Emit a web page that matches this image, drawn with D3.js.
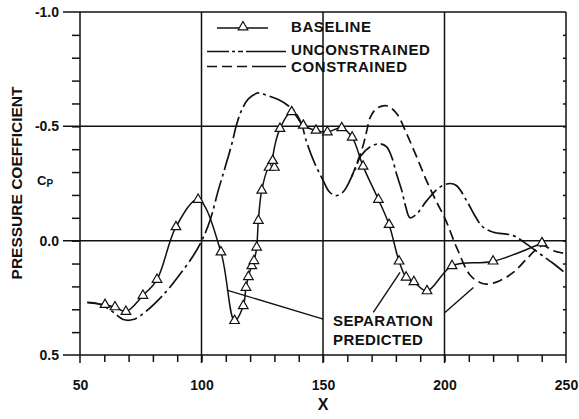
<!DOCTYPE html>
<meta charset="utf-8">
<html>
<head>
<script src="https://d3js.org/d3.v7.min.js"></script>
<style>
  body{margin:0;background:#fff;}
  text{font-family:"Liberation Sans",Arial,sans-serif;font-weight:bold;fill:#111;}
</style>
</head>
<body>
<div id="chart"></div>
<script>
var width=579,height=419;

// baseline (triangles), first point has no marker
var baseX=[53,60.3,64.4,68.9,75.9,81.7,89.5,98.6,108,113.6,117.2,118.3,119.3,120.7,121.6,122.7,123.4,124.8,127.8,130,129.3,132.3,137.1,141.9,147.1,151.8,157.7,162,166.5,172.8,177.2,181.3,184.2,187.4,192.8,203.1,220,240.1];
var baseCp=[0.27,0.28,0.29,0.31,0.24,0.17,-0.06,-0.18,0.05,0.35,0.285,0.205,0.158,0.11,0.088,0.029,-0.088,-0.22,-0.32,-0.32,-0.35,-0.49,-0.563,-0.504,-0.482,-0.475,-0.493,-0.452,-0.325,-0.18,-0.07,0.09,0.16,0.18,0.22,0.11,0.09,0.01];

// unconstrained design
var unconX=[53,57,60.5,64,67.8,71.9,77.4,85.7,91.2,96.6,100.1,103.5,106.9,109.7,112.4,114.5,116.5,119.3,123.4,126.8,131.6,135.7,138.5,141.2,143,146.5,150,152.5,155.2,158,159.7,161.8,163.5,165.5,169.3,173.5,176.2,178.3,180.3,182.4,184,185.8,188.6,192.7,198.1,202.3,205,209.1,213,216,220.1,228.3,233.8,239.3,244.8,250];
var unconCp=[0.27,0.275,0.29,0.315,0.345,0.345,0.307,0.22,0.146,0.066,0.0,-0.088,-0.22,-0.32,-0.42,-0.51,-0.57,-0.62,-0.646,-0.636,-0.617,-0.59,-0.563,-0.51,-0.44,-0.34,-0.265,-0.215,-0.197,-0.21,-0.234,-0.28,-0.32,-0.37,-0.41,-0.424,-0.41,-0.365,-0.29,-0.22,-0.15,-0.10,-0.117,-0.175,-0.234,-0.25,-0.24,-0.175,-0.1,-0.058,-0.037,-0.022,0.015,0.058,0.1,0.145];

// constrained design (same as unconstrained upstream of x~162)
var conX=[161.8,164,166.6,168,169.5,172.1,176.2,180.3,184.4,188.6,192.7,196,200.5,205,210.5,214.6,217.4,222.8,228.3,233.8,238,240.6,244.8,249.6];
var conCp=[-0.28,-0.34,-0.42,-0.48,-0.54,-0.578,-0.59,-0.556,-0.468,-0.365,-0.26,-0.185,-0.09,0.03,0.15,0.183,0.19,0.175,0.139,0.08,0.036,0.022,0.044,0.056];

var xTicks=[50,100,150,200,250];
var yTicks=[-1.0,-0.5,0.0,0.5];

// separation pointers: start on curve, end near label
var sepX1=[110.4,181.7,211.9], sepCp1=[0.216,0.139,0.205];
var sepX2=[150.1,170.7,200.2], sepCp2=[0.343,0.314,0.314];

var x=d3.scaleLinear().domain([50,250]).range([80,566]);
var y=d3.scaleLinear().domain([-1,0.5]).range([12,355]);

var svg=d3.select("#chart").append("svg")
  .attr("width",width).attr("height",height);

var ink="#111";

// grid / frame lines
var grid=svg.append("g").attr("stroke",ink).attr("stroke-width",1.5);
grid.selectAll("line.h").data(yTicks).enter().append("line")
  .attr("x1",63).attr("x2",x(250))
  .attr("y1",function(d){return y(d)}).attr("y2",function(d){return y(d)});
grid.selectAll("line.v").data(xTicks).enter().append("line")
  .attr("y1",y(-1)).attr("y2",y(0.5)+8)
  .attr("x1",function(d){return x(d)}).attr("x2",function(d){return x(d)});

// minor ticks
var minorX=svg.append("g").attr("transform","translate(0,"+y(0.5)+")")
  .call(d3.axisBottom(x).tickValues(d3.range(60,250,10)).tickSize(7).tickFormat(""));
var minorY=svg.append("g").attr("transform","translate("+x(50)+",0)")
  .call(d3.axisLeft(y).tickValues(d3.range(-9,5).map(function(i){return i/10})).tickSize(8).tickFormat(""));
var minorR=svg.append("g").attr("transform","translate("+x(250)+",0)")
  .call(d3.axisLeft(y).tickValues(d3.range(-9,5).map(function(i){return i/10})).tickSize(3).tickFormat(""));
[minorX,minorY,minorR].forEach(function(g){
  g.select(".domain").remove();
  g.selectAll("line").attr("stroke",ink).attr("stroke-width",1.5);
});

// tick labels
var xLab=svg.append("g").attr("transform","translate(0,"+y(0.5)+")")
  .call(d3.axisBottom(x).tickValues(xTicks).tickSize(0).tickPadding(25).tickFormat(d3.format("d")));
var yLab=svg.append("g").attr("transform","translate("+x(50)+",0)")
  .call(d3.axisLeft(y).tickValues(yTicks).tickSize(0).tickPadding(21).tickFormat(function(d){return d.toFixed(1)}));
[xLab,yLab].forEach(function(g){
  g.select(".domain").remove();
  g.selectAll("text").attr("font-family",null).attr("font-size",null)
    .style("font-size","14px").style("fill",ink);
});

// curves
var line=d3.line()
  .x(function(d){return x(d[0])}).y(function(d){return y(d[1])})
  .curve(d3.curveCatmullRom.alpha(0.5));
function pts(xs,cs){return xs.map(function(v,i){return [v,cs[i]]});}

var unconDash="22,4,3,4", conDash="10,5";

svg.append("path").attr("d",line(pts(unconX,unconCp)))
  .attr("fill","none").attr("stroke",ink).attr("stroke-width",1.7)
  .attr("stroke-dasharray",unconDash);
svg.append("path").attr("d",line(pts(conX,conCp)))
  .attr("fill","none").attr("stroke",ink).attr("stroke-width",1.7)
  .attr("stroke-dasharray",conDash);
svg.append("path").attr("d",line(pts(baseX,baseCp)))
  .attr("fill","none").attr("stroke",ink).attr("stroke-width",1.5);

var tri=d3.symbol().type(d3.symbolTriangle).size(40);
svg.append("g").selectAll("path")
  .data(pts(baseX,baseCp).slice(1)).enter().append("path")
  .attr("d",tri)
  .attr("transform",function(d){return "translate("+x(d[0])+","+y(d[1])+")"})
  .attr("fill","#fff").attr("stroke",ink).attr("stroke-width",1.2);

// separation pointers
svg.append("g").selectAll("line").data(sepX1).enter().append("line")
  .attr("x1",function(d){return x(d)}).attr("y1",function(d,i){return y(sepCp1[i])})
  .attr("x2",function(d,i){return x(sepX2[i])}).attr("y2",function(d,i){return y(sepCp2[i])})
  .attr("stroke",ink).attr("stroke-width",1.4);
svg.append("text").attr("x",333).attr("y",326).style("font-size","15px")
  .style("letter-spacing","0.4px").text("SEPARATION");
svg.append("text").attr("x",333).attr("y",345).style("font-size","15px")
  .style("letter-spacing","0.4px").text("PREDICTED");

// legend
var lg=svg.append("g");
lg.append("line").attr("x1",217).attr("x2",268).attr("y1",28).attr("y2",28)
  .attr("stroke",ink).attr("stroke-width",1.5);
lg.append("path").attr("d",tri).attr("transform","translate(243,27)")
  .attr("fill","#fff").attr("stroke",ink).attr("stroke-width",1.2);
lg.append("line").attr("x1",207).attr("x2",286).attr("y1",51.5).attr("y2",51.5)
  .attr("stroke",ink).attr("stroke-width",1.7).attr("stroke-dasharray","22,3,3,3,5,3,40");
lg.append("line").attr("x1",207).attr("x2",286).attr("y1",66.5).attr("y2",66.5)
  .attr("stroke",ink).attr("stroke-width",1.7).attr("stroke-dasharray","10,5,10,5,10,5,40");
var legText=["BASELINE","UNCONSTRAINED","CONSTRAINED"], legY=[32,55,72];
lg.selectAll("text").data(legText).enter().append("text")
  .attr("x",291).attr("y",function(d,i){return legY[i]})
  .style("font-size","15px").style("letter-spacing","0.6px").text(function(d){return d});

// axis titles
svg.append("text").attr("transform","translate(16.5,183) rotate(-90)")
  .attr("text-anchor","middle").attr("dominant-baseline","central")
  .style("font-size","15.5px").text("PRESSURE COEFFICIENT");
var cp=svg.append("text").attr("x",37).attr("y",185).style("font-size","13px");
cp.append("tspan").text("C");
cp.append("tspan").attr("dy",2).style("font-size","10px").text("P");
svg.append("text").attr("x",x(150)).attr("y",410).attr("text-anchor","middle")
  .style("font-size","16px").text("X");
</script>
</body>
</html>
